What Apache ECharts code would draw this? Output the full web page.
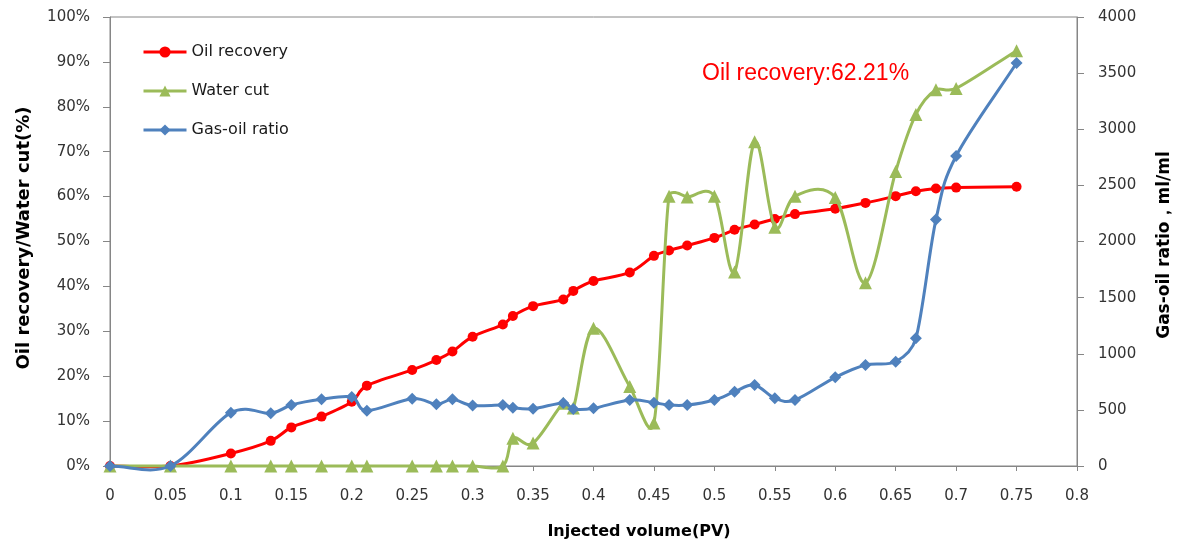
<!DOCTYPE html>
<html>
<head>
<meta charset="utf-8">
<script src="https://cdn.jsdelivr.net/npm/echarts@6/dist/echarts.min.js"></script>
<style>
html,body{margin:0;padding:0;background:#fff;}
#chart{width:1179px;height:548px;}
</style>
</head>
<body>
<div id="chart"></div>
<script>
// Injected volume (PV)
var pv = [0, 0.05, 0.1, 0.133, 0.15, 0.175, 0.2, 0.2125, 0.25, 0.27, 0.2833, 0.3, 0.325, 0.3333, 0.35, 0.375, 0.3833, 0.4, 0.43, 0.45, 0.4625, 0.4775, 0.5, 0.5167, 0.5333, 0.55, 0.5667, 0.6, 0.625, 0.65, 0.6667, 0.6833, 0.7, 0.75];
// Oil recovery (%)
var oilRecovery = [0, 0, 2.8, 5.6, 8.6, 11.0, 14.3, 17.9, 21.4, 23.6, 25.5, 28.8, 31.5, 33.4, 35.6, 37.1, 39.0, 41.2, 43.1, 46.8, 48.0, 49.1, 50.8, 52.6, 53.8, 55.0, 56.1, 57.3, 58.6, 60.1, 61.2, 61.8, 62.0, 62.21];
// Water cut (%)
var waterCut = [0, 0, 0, 0, 0, 0, 0, 0, 0, 0, 0, 0, 0, 6.2, 5.1, 14.0, 12.9, 30.7, 17.7, 9.6, 60.1, 59.9, 60.1, 43.2, 72.2, 53.2, 60.1, 59.8, 40.8, 65.6, 78.3, 83.8, 84.1, 92.5];
// Gas-oil ratio (ml/ml)
var gasOilRatio = [0, 0, 475, 469, 543, 594, 614, 493, 600, 549, 594, 538, 543, 520, 510, 562, 508, 514, 588, 564, 543, 543, 588, 662, 722, 603, 588, 790, 900, 929, 1137, 2195, 2762, 3590];

var seriesNames = ['Oil recovery', 'Water cut', 'Gas-oil ratio'];
var annotationText = 'Oil recovery:62.21%';
var xTitle = 'Injected volume(PV)';
var leftTitle = 'Oil recovery/Water cut(%)';
var rightTitle = 'Gas-oil ratio，ml/ml';

var xTicks = {min: 0, max: 0.8, interval: 0.05};
var leftTicks = {min: 0, max: 100, interval: 10};
var rightTicks = {min: 0, max: 4000, interval: 500};

function pairs(ys) { return pv.map(function (x, i) { return [x, ys[i]]; }); }

var axisGray = '#868686';
var labelColor = '#333333';
var tickFont = 'DejaVu Sans';
var colors = ['#ff0000', '#9bbb59', '#4f81bd'];

// Spreadsheet-style smoothed curve (Bezier through the points), positions via api.coord
function smoothRender(values, color) {
  return function (params, api) {
    if (params.dataIndex !== 0) return null;
    var pts = pv.map(function (x, i) { return api.coord([x, values[i]]); });
    function dist(a, b) { return Math.sqrt((a[0]-b[0])*(a[0]-b[0]) + (a[1]-b[1])*(a[1]-b[1])); }
    var d = 'M' + pts[0][0] + ' ' + pts[0][1];
    var n = pts.length;
    for (var i = 0; i < n - 1; i++) {
      var first = (i === 0), last = (i + 2 > n - 1);
      var p0 = pts[first ? i : i - 1], p1 = pts[i], p2 = pts[i + 1], p3 = pts[last ? i + 1 : i + 2];
      var f1 = first ? 1 / 3 : 1 / 6, f2 = last ? 1 / 3 : 1 / 6;
      var d02 = dist(p0, p2), d12 = dist(p1, p2), d13 = dist(p1, p3);
      var a = d02 * f1, b = d13 * f2, h = d12 / 2;
      var k1, k2;
      if (a < h && b < h) { k1 = f1; k2 = f2; }
      else if (a >= h && b >= h) { k1 = d02 ? h / d02 : 0; k2 = d13 ? h / d13 : 0; }
      else if (a >= h) { k1 = d02 ? h / d02 : 0; k2 = f2 * (a ? h / a : 0); }
      else { k2 = d13 ? h / d13 : 0; k1 = f1 * (b ? h / b : 0); }
      var c1 = [p1[0] + (p2[0] - p0[0]) * k1, p1[1] + (p2[1] - p0[1]) * k1];
      var c2 = [p2[0] - (p3[0] - p1[0]) * k2, p2[1] - (p3[1] - p1[1]) * k2];
      d += ' C' + c1[0] + ' ' + c1[1] + ' ' + c2[0] + ' ' + c2[1] + ' ' + p2[0] + ' ' + p2[1];
    }
    return {
      type: 'path',
      shape: {pathData: d},
      style: {stroke: color, fill: null, lineWidth: 3, lineJoin: 'round', lineCap: 'round'}
    };
  };
}

var dataSets = [oilRecovery, waterCut, gasOilRatio];
var yIdx = [0, 0, 1];
var symbols = ['circle', 'triangle', 'diamond'];
var symbolSizes = [10, 13, 12];

var series = [];
seriesNames.forEach(function (name, k) {
  series.push({
    name: name, type: 'line', yAxisIndex: yIdx[k], data: pairs(dataSets[k]),
    symbol: symbols[k], symbolSize: symbolSizes[k], z: 3 + k * 2,
    lineStyle: {color: colors[k], width: 3, opacity: 0}, itemStyle: {color: colors[k]}
  });
});
seriesNames.forEach(function (name, k) {
  series.push({
    name: name + ' curve', type: 'custom', yAxisIndex: yIdx[k], data: pairs(dataSets[k]),
    encode: {x: 0, y: 1}, z: 2 + k * 2, silent: true,
    renderItem: smoothRender(dataSets[k], colors[k])
  });
});

var chart = echarts.init(document.getElementById('chart'));
chart.setOption({
  animation: false,
  backgroundColor: '#fff',
  grid: {left: 110, right: 102, top: 17, bottom: 82, show: true, borderColor: axisGray, borderWidth: 1},
  legend: {
    orient: 'vertical', left: 142, top: 44, padding: 0, itemWidth: 43, itemHeight: 14, itemGap: 23,
    textStyle: {fontFamily: tickFont, fontSize: 16, color: '#1a1a1a'},
    data: seriesNames.map(function (n, k) { return {name: n, lineStyle: {opacity: 1, width: 3, color: colors[k]}}; })
  },
  xAxis: {
    type: 'value', min: xTicks.min, max: xTicks.max, interval: xTicks.interval,
    axisLine: {show: true, onZero: false, lineStyle: {color: axisGray, width: 1}},
    axisTick: {show: true, length: 5, lineStyle: {color: axisGray}},
    splitLine: {show: false},
    axisLabel: {margin: 23, fontFamily: tickFont, fontSize: 15, color: labelColor}
  },
  yAxis: [{
    type: 'value', min: leftTicks.min, max: leftTicks.max, interval: leftTicks.interval,
    axisLine: {show: true, lineStyle: {color: axisGray}},
    axisTick: {show: true, length: 7, lineStyle: {color: axisGray}},
    splitLine: {show: false},
    axisLabel: {margin: 20, fontFamily: tickFont, fontSize: 15, color: labelColor, formatter: '{value}%'}
  }, {
    type: 'value', min: rightTicks.min, max: rightTicks.max, interval: rightTicks.interval,
    axisLine: {show: true, lineStyle: {color: axisGray}},
    axisTick: {show: true, length: 7, lineStyle: {color: axisGray}},
    splitLine: {show: false},
    axisLabel: {margin: 21, fontFamily: tickFont, fontSize: 15, color: labelColor, formatter: function (v) { return String(v); }}
  }],
  graphic: [{
    type: 'text', left: 702, top: 62,
    style: {text: annotationText, fill: '#ff0000', font: '23px "Liberation Sans"'}
  }, {
    type: 'text', x: 639, y: 532,
    style: {text: xTitle, fill: '#000', font: 'bold 16px "DejaVu Sans"', align: 'center', verticalAlign: 'middle'}
  }, {
    type: 'text', x: 24, y: 238, rotation: Math.PI / 2,
    style: {text: leftTitle, fill: '#000', font: 'bold 18px "DejaVu Sans"', align: 'center', verticalAlign: 'middle'}
  }, {
    type: 'text', x: 1165, y: 245, rotation: Math.PI / 2,
    style: {text: rightTitle, fill: '#000', font: 'bold 17px "DejaVu Sans"', align: 'center', verticalAlign: 'middle'}
  }],
  series: series
});
</script>
</body>
</html>
